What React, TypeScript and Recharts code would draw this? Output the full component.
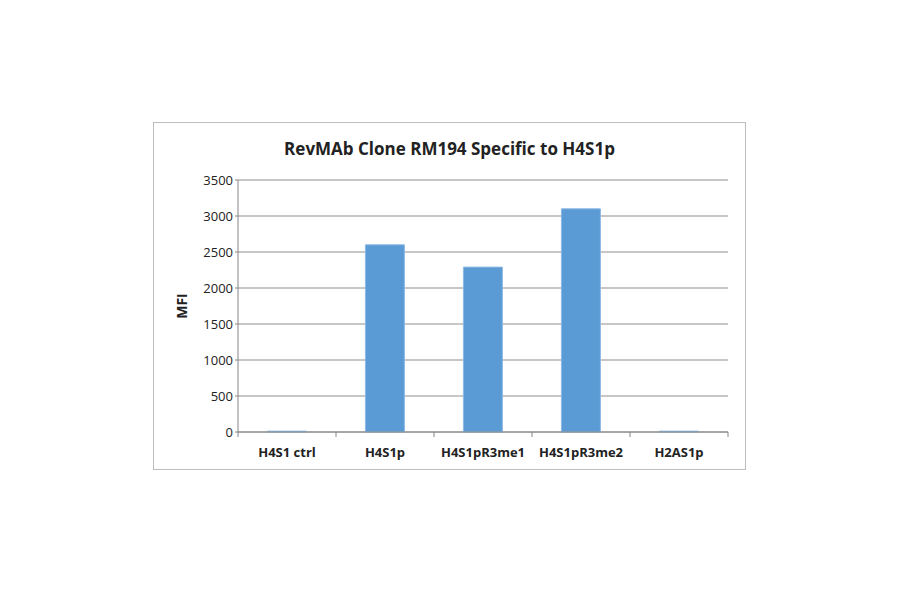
import React from "react";
import { BarChart, Bar, XAxis, YAxis, CartesianGrid, Label } from "recharts";

const peptides = ["H4S1 ctrl", "H4S1p", "H4S1pR3me1", "H4S1pR3me2", "H2AS1p"];
const mfiValues = [12, 2600, 2290, 3100, 12];
const yTicks = [0, 500, 1000, 1500, 2000, 2500, 3000, 3500];

const data = peptides.map((name, i) => ({ name, mfi: mfiValues[i] }));

const FRAME_W = 593;
const FRAME_H = 348;
const MARGIN = { top: 57, right: 17, left: 44, bottom: 7 };
const Y_AXIS_W = 40;
const PLOT_W = FRAME_W - 2 - MARGIN.left - MARGIN.right - Y_AXIS_W;
const BAND = PLOT_W / peptides.length;
const FONT = "'Open Sans', 'Liberation Sans', sans-serif";

// Excel-style category ticks sit between the bars, not under them
function CategoryTick(props: any) {
  const { x, y, payload, index } = props;
  const left = x - BAND / 2;
  return (
    <g>
      <line x1={left} y1={y - 8} x2={left} y2={y - 3} stroke="#868686" />
      {index === peptides.length - 1 && (
        <line x1={left + BAND} y1={y - 8} x2={left + BAND} y2={y - 3} stroke="#868686" />
      )}
      <text x={x} y={y + 17} textAnchor="middle" fontSize={13} fontWeight={700} fill="#222" fontFamily={FONT}>
        {payload.value}
      </text>
    </g>
  );
}

export default function App() {
  return (
    <div style={{ position: "absolute", left: 0, top: 0, width: 900, height: 594, background: "#fff" }}>
      <div
        style={{
          position: "absolute",
          left: 153,
          top: 122,
          width: FRAME_W,
          height: FRAME_H,
          border: "1px solid #bdbdbd",
          boxSizing: "border-box",
        }}
      >
        <div
          style={{
            position: "absolute",
            top: 14,
            left: 0,
            width: "100%",
            textAlign: "center",
            fontFamily: FONT,
            fontWeight: 700,
            fontSize: 17,
            color: "#222",
          }}
        >
          RevMAb Clone RM194 Specific to H4S1p
        </div>
        <BarChart
          width={FRAME_W - 2}
          height={FRAME_H - 2}
          data={data}
          margin={MARGIN}
          barCategoryGap="30%"
          style={{ position: "absolute", left: 0, top: 0 }}
        >
          <CartesianGrid vertical={false} stroke="#8e8e8e" />
          <XAxis
            dataKey="name"
            tick={<CategoryTick />}
            tickLine={false}
            axisLine={{ stroke: "#868686" }}
            height={30}
            interval={0}
          />
          <YAxis
            domain={[0, 3500]}
            ticks={yTicks}
            width={Y_AXIS_W}
            tickSize={3}
            tickLine={{ stroke: "#868686" }}
            axisLine={{ stroke: "#868686" }}
            tick={{ fontSize: 13, fill: "#222", fontFamily: FONT }}
          >
            <Label
              value="MFI"
              angle={-90}
              position="insideLeft"
              offset={-16}
              style={{ fontSize: 14, fontWeight: 700, fill: "#222", fontFamily: FONT, textAnchor: "middle" }}
            />
          </YAxis>
          <Bar dataKey="mfi" fill="#5b9bd5" stroke="#8db9e3" strokeWidth={1} isAnimationActive={false} />
        </BarChart>
      </div>
    </div>
  );
}
